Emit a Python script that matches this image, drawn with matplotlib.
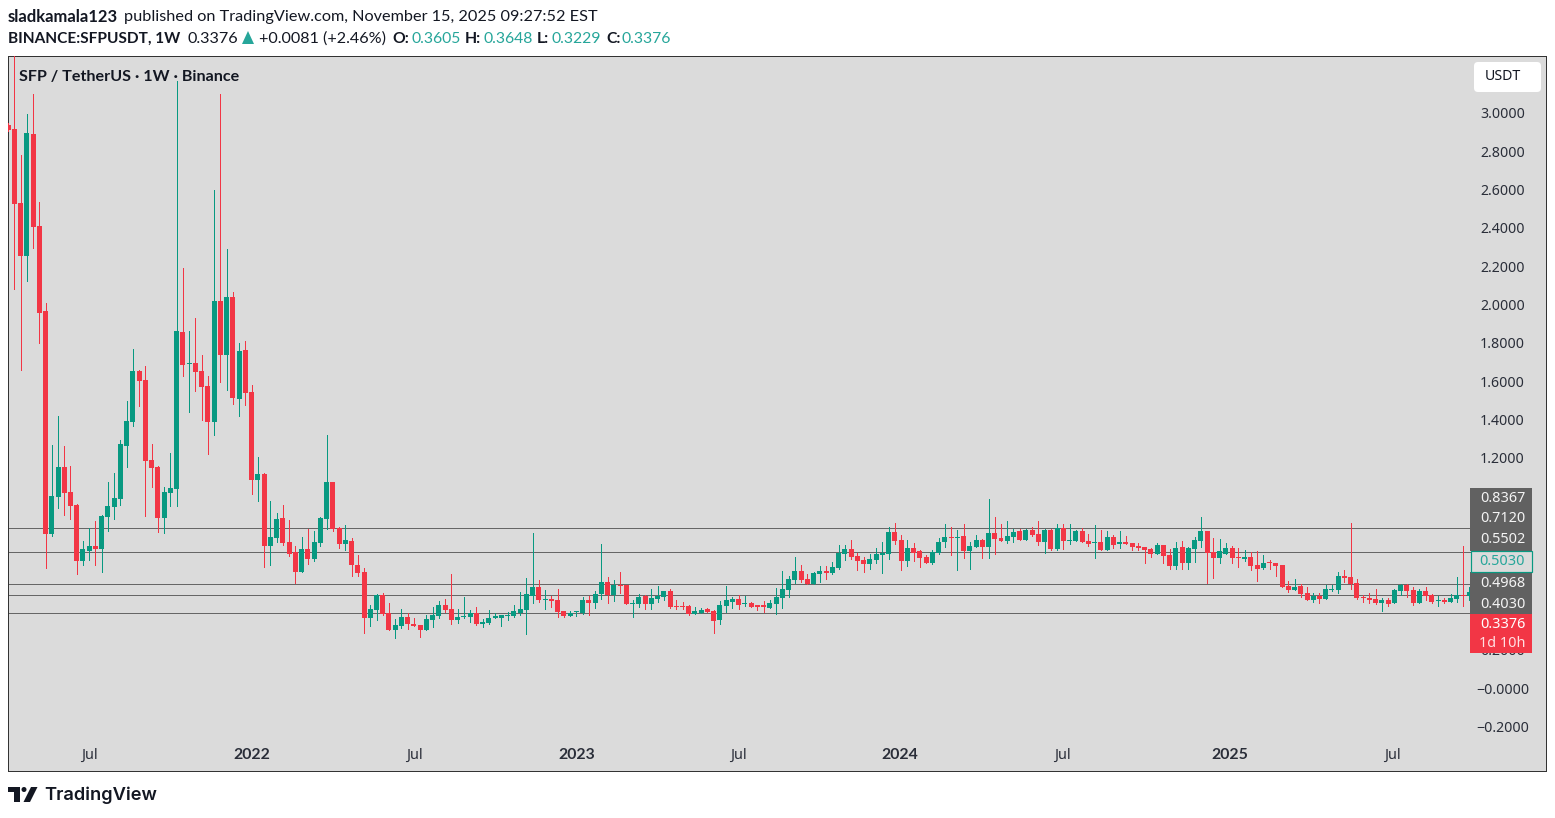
import numpy as np
import matplotlib
matplotlib.use('Agg')
import matplotlib.pyplot as plt
from matplotlib.patches import Rectangle, Polygon, Circle, FancyBboxPatch

plt.rcParams['font.family'] = ['Lato', 'DejaVu Sans']

opens = [2.943,2.922,2.536,2.261,2.896,2.416,1.972,.81,1.003,1.158,
         1.028,.96,.67,.722,.746,.73,.897,.95,.991,1.268,
         1.393,1.659,1.612,1.195,1.158,.892,1.023,1.043,1.863,1.695,
         1.70,1.659,1.581,1.393,2.024,1.743,2.045,1.513,1.769,1.55,
         1.09,1.122,.746,.788,.892,.767,.715,.61,.73,.678,
         .762,.887,1.08,.84,.757,.772,.647,.61,.37,.412,
         .492,.398,.308,.329,.376,.339,.334,.308,.36,.381,
         .438,.417,.36,.376,.376,.398,.339,.344,.372,.37,
         .381,.381,.397,.412,.485,.532,.464,.47,.464,.407,
         .381,.40,.398,.464,.449,.496,.558,.492,.543,.543,
         .443,.443,.485,.443,.47,.48,.511,.433,.433,.433,
         .391,.398,.417,.407,.36,.433,.454,.47,.443,.449,
         .435,.433,.423,.443,.475,.517,.569,.616,.574,.548,
         .60,.616,.605,.631,.704,.73,.694,.673,.652,.673,
         .699,.704,.819,.777,.668,.736,.72,.689,.657,.71,
         .767,.793,.788,.798,.72,.741,.777,.741,.814,.788,
         .772,.793,.824,.777,.83,.809,.767,.83,.73,.84,
         .772,.772,.824,.772,.762,.767,.725,.793,.758,.762,
         .762,.746,.741,.73,.704,.751,.699,.642,.741,.657,
         .73,.772,.824,.715,.683,.704,.736,.689,.678,.689,
         .647,.631,.663,.657,.647,.537,.517,.537,.501,.464,
         .485,.47,.517,.517,.59,.584,.553,.48,.475,.47,
         .449,.464,.449,.511,.543,.517,.449,.511,.49,.457,
         .464,.454,.47,.49,.485]
closes = [2.917,2.532,2.261,2.901,2.412,1.963,.81,1.007,1.158,1.024,
          .957,.67,.73,.746,.73,.903,.955,.997,1.278,1.398,
          1.659,1.607,1.19,1.153,.892,1.028,1.049,1.868,1.69,1.70,
          1.654,1.576,1.393,2.024,1.743,2.045,1.518,1.763,1.544,1.09,
          1.122,.746,.793,.887,.762,.704,.61,.73,.678,.767,
          .892,1.08,.835,.757,.777,.647,.605,.37,.417,.492,
          .391,.308,.334,.376,.339,.329,.308,.365,.386,.438,
          .412,.36,.376,.381,.397,.339,.35,.37,.376,.386,
          .386,.407,.417,.496,.532,.464,.47,.459,.402,.381,
          .397,.403,.464,.449,.496,.558,.49,.543,.537,.443,
          .449,.48,.443,.475,.485,.511,.428,.428,.428,.391,
          .407,.412,.402,.355,.438,.464,.47,.438,.449,.428,
          .43,.43,.449,.48,.522,.574,.616,.569,.548,.605,
          .616,.605,.637,.71,.73,.689,.668,.652,.678,.704,
          .71,.819,.772,.668,.736,.71,.683,.657,.715,.767,
          .793,.788,.793,.72,.746,.777,.741,.814,.783,.772,
          .798,.819,.777,.83,.803,.767,.83,.73,.84,.772,
          .777,.824,.767,.757,.767,.725,.793,.751,.762,.758,
          .741,.736,.725,.704,.751,.694,.642,.736,.657,.736,
          .777,.824,.71,.683,.72,.736,.683,.683,.689,.642,
          .626,.657,.657,.642,.532,.517,.532,.496,.464,.485,
          .47,.522,.522,.59,.581,.548,.475,.475,.464,.449,
          .464,.443,.517,.543,.511,.449,.511,.485,.454,.464,
          .454,.475,.49,.485,.506]
highs = [2.95,3.5,2.786,3.0,3.104,2.539,2.014,1.271,1.424,1.268,
         1.163,.965,.772,.838,.877,.908,1.08,1.127,1.30,1.503,
         1.774,1.664,1.685,1.278,1.163,1.054,1.231,3.172,2.197,1.868,
         1.936,1.743,1.633,2.603,3.104,2.296,2.071,1.805,1.816,1.586,
         1.21,1.127,.981,.918,.96,.882,.746,.793,.835,.824,
         .897,1.325,1.08,.845,.856,.788,.699,.631,.438,.496,
         .50,.449,.365,.417,.397,.37,.334,.386,.428,.459,
         .47,.60,.417,.48,.412,.428,.365,.412,.397,.386,
         .402,.438,.506,.579,.814,.569,.517,.485,.522,.407,
         .407,.407,.48,.485,.511,.757,.584,.569,.61,.543,
         .464,.496,.49,.522,.537,.511,.522,.464,.454,.438,
         .428,.423,.423,.412,.459,.537,.48,.49,.485,.454,
         .435,.459,.464,.527,.616,.59,.689,.647,.60,.61,
         .642,.642,.663,.751,.751,.777,.71,.689,.704,.736,
         .767,.845,.866,.803,.777,.762,.725,.699,.725,.788,
         .861,.845,.83,.861,.767,.803,.783,.991,.897,.861,
         .877,.835,.835,.835,.845,.877,.835,.835,.861,.861,
         .861,.83,.84,.809,.856,.83,.824,.803,.824,.798,
         .762,.762,.741,.736,.762,.751,.73,.767,.772,.741,
         .793,.897,.824,.788,.783,.762,.746,.736,.725,.715,
         .72,.699,.673,.657,.647,.563,.574,.548,.532,.501,
         .501,.543,.543,.61,.621,.866,.574,.49,.501,.522,
         .475,.475,.522,.548,.548,.532,.522,.532,.496,.485,
         .475,.496,.584,.746,.532]
lows = [2.91,2.089,1.664,2.13,2.303,1.805,.633,.80,.946,.91,
        .889,.602,.649,.673,.649,.612,.826,.887,.96,1.158,
        1.372,1.477,.903,1.054,.819,.814,.955,.955,1.633,1.445,
        1.555,1.403,1.226,1.325,1.602,1.56,1.487,1.424,1.482,1.017,
        .981,.637,.647,.767,.751,.694,.553,.61,.652,.668,
        .746,.835,.824,.736,.725,.59,.59,.292,.329,.36,
        .386,.308,.266,.318,.313,.329,.271,.308,.323,.37,
        .402,.339,.344,.37,.35,.334,.323,.339,.37,.329,
        .36,.376,.386,.287,.449,.454,.417,.428,.376,.376,
        .381,.381,.391,.386,.423,.47,.449,.459,.50,.443,
        .376,.428,.417,.417,.454,.464,.423,.417,.417,.386,
        .391,.398,.402,.292,.339,.402,.423,.417,.433,.428,
        .412,.402,.423,.391,.423,.48,.553,.558,.548,.548,
        .558,.574,.60,.626,.673,.678,.621,.61,.626,.657,
        .605,.678,.757,.621,.642,.668,.637,.657,.652,.704,
        .741,.699,.621,.683,.626,.741,.683,.683,.704,.772,
        .762,.767,.777,.777,.798,.751,.71,.725,.725,.73,
        .757,.772,.767,.746,.683,.725,.725,.736,.736,.758,
        .725,.725,.657,.689,.704,.657,.626,.626,.626,.626,
        .663,.741,.553,.579,.657,.704,.657,.637,.668,.621,
        .563,.626,.626,.59,.532,.506,.517,.48,.464,.454,
        .449,.47,.511,.501,.558,.522,.47,.454,.449,.443,
        .407,.433,.449,.49,.48,.438,.449,.464,.449,.433,
        .449,.454,.454,.433,.464]

level_lines = [0.84, 0.7147, 0.548, 0.49, 0.396]
# 1.0, 0.8 and 0.4 sit fully behind the badges in the reference
price_ticks = [3.0, 2.8, 2.6, 2.4, 2.2, 2.0, 1.8, 1.6, 1.4, 1.2, 0.6, 0.2, 0.0, -0.2]
date_pos = [13, 39.1, 65, 91, 116.9, 142.8, 168.8, 195.7, 221.6]
date_labels = ['Jul', '2022', 'Jul', '2023', 'Jul', '2024', 'Jul', '2025', 'Jul']
level_labels = ['0.8367', '0.7120', '0.5502', '0.4968', '0.4030']

GREEN = '#089981'
RED = '#f23645'
BG = '#dbdbdb'
W, H = 1555, 818
PX = 0.72  # one pixel in points at dpi 100
SCALE_FONT = ['Noto Sans', 'DejaVu Sans']

fig = plt.figure(figsize=(W / 100, H / 100), dpi=100, facecolor='white')

# plot frame is 8..1546 by 56..771 in pixels
ax = fig.add_axes([8 / W, 1 - 771 / H, 1538 / W, 715 / H], facecolor=BG)
ax.set_xlim(-0.008, 246.27)
ax.set_ylim(-0.4277, 3.302)
ax.set_xticks([])
ax.set_yticks([])
for s in ax.spines.values():
    s.set_color('#333333')
    s.set_linewidth(PX)

o = np.array(opens)
c = np.array(closes)
hi = np.array(highs)
lo = np.array(lows)
x = np.arange(len(o))
cols = np.where(c >= o, GREEN, RED)

ax.hlines(level_lines, -1, 234.1, color='#666666', lw=PX, zorder=2, antialiased=False)
ax.vlines(x, lo, hi, color=cols, lw=PX, zorder=3, antialiased=False)
ax.bar(x, np.maximum(np.abs(c - o), 0.007), width=0.8, bottom=np.minimum(o, c),
       color=cols, linewidth=0, zorder=4, antialiased=False)

for p, l in zip(date_pos, date_labels):
    if l == 'Jul':
        fam, size, weight = SCALE_FONT, 10.4, 'normal'
    else:
        fam, size, weight = 'Lato', 11.4, 'bold'
    ax.annotate(l, (p, 0), xycoords=('data', 'axes fraction'), xytext=(0, 16 * PX),
                textcoords='offset points', ha='center', va='center', fontsize=size,
                family=fam, fontweight=weight, color='#2a2e39')

for p in price_ticks:
    ax.annotate('%.4f' % abs(p) if p > 0 else ('\u2212%.4f' % abs(p)), (1502.5, p),
                xycoords=('figure pixels', 'data'), xytext=(0, -1 * PX), textcoords='offset points',
                ha='center', va='center', family=SCALE_FONT,
                fontsize=10.2, color='#2a2e39', zorder=5)

# overlay in pixels for the header, scale badges and logo
ov = fig.add_axes([0, 0, 1, 1], facecolor='none', zorder=10)
ov.set_xlim(0, W)
ov.set_ylim(H, 0)
ov.axis('off')

TXT = '#131722'
TEAL = '#26a69a'
HS = 11.6
ov.text(8, 17, 'sladkamala123', fontsize=12, fontweight='bold', color=TXT, va='center')
ov.text(124, 17, 'published on TradingView.com, November 15, 2025 09:27:52 EST', fontsize=11.7, color=TXT, va='center')
ov.text(8, 39, 'BINANCE:SFPUSDT, 1W', fontsize=11.1, fontweight='bold', color=TXT, va='center')
ov.text(188, 39, '0.3376', fontsize=HS, color=TXT, va='center')
ov.add_patch(Polygon([[242, 44], [254, 44], [248, 31]], color=TEAL, lw=0))
ov.text(259, 39, '+0.0081 (+2.46%)', fontsize=HS, color=TXT, va='center')
for xk, k, xv, v in [(392, 'O:', 411, '0.3605'), (465, 'H:', 483, '0.3648'),
                     (537, 'L:', 552, '0.3229'), (606, 'C:', 622, '0.3376')]:
    ov.text(xk, 39, k, fontsize=11.3, fontweight='bold', color=TXT, va='center')
    ov.text(xv, 39, v, fontsize=11.3, color=TEAL, va='center')

ov.text(19, 77.5, 'SFP / TetherUS \u00b7 1W \u00b7 Binance', fontsize=HS, fontweight='bold', color=TXT, va='center')

# USDT button
ov.add_patch(FancyBboxPatch((1474, 62), 67, 30, boxstyle='round,pad=0,rounding_size=4',
                            fc='white', ec='none', lw=0))
ov.text(1502.5, 77, 'USDT', fontsize=10.2, family=SCALE_FONT, color=TXT, ha='center', va='center')

# scale badges
ov.add_patch(Rectangle((1470, 487.5), 62, 63, fc='#616161', ec='none'))
ov.add_patch(Rectangle((1470, 572), 62, 42, fc='#616161', ec='none'))
ov.add_patch(Rectangle((1470.5, 551), 61, 20.5, fc=BG, ec=GREEN, lw=1.2 * PX))
ov.add_patch(Rectangle((1470, 614), 62, 39, fc=RED, ec='none'))
for y, t in zip([498.5, 518.5, 539.5, 583.5, 604], level_labels):
    ov.text(1502.5, y, t, fontsize=10.4, family=SCALE_FONT, color='#f4f4f4', ha='center', va='center')
ov.text(1502.5, 561.5, '0.5030', fontsize=10.4, family=SCALE_FONT, color=TEAL, ha='center', va='center')
ov.text(1502.5, 624.5, '0.3376', fontsize=10.4, family=SCALE_FONT, color='white', ha='center', va='center')
ov.text(1502.5, 643.5, '1d 10h', fontsize=10.4, family=SCALE_FONT, color='#ffdfe2', ha='center', va='center')

# TradingView logo
ov.add_patch(Polygon([[8, 787], [20, 787], [20, 802], [14, 802], [14, 792], [8, 792]], color=TXT, lw=0))
ov.add_patch(Circle((24, 789.5), 2.5, color=TXT, lw=0))
ov.add_patch(Polygon([[31, 787], [37.5, 787], [30, 802], [23.5, 802]], color=TXT, lw=0))
ov.text(44, 795, 'TradingView', fontsize=13.2, family='Inter', fontweight='semibold', color=TXT, va='center')

fig.savefig('out.png', dpi=100, facecolor='white')
